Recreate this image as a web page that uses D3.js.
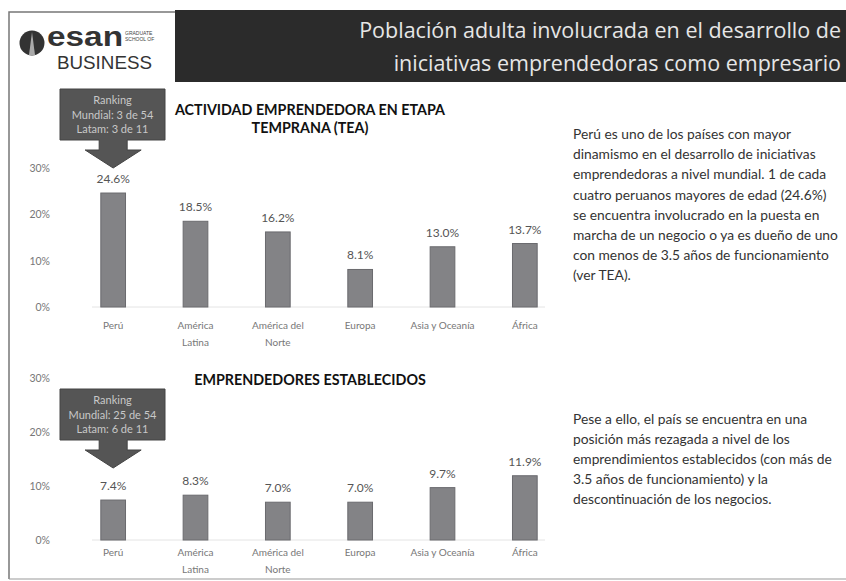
<!DOCTYPE html>
<html><head><meta charset="utf-8">
<script src="https://cdn.jsdelivr.net/npm/d3@7"></script>
<style>
html,body{margin:0;padding:0;background:#fff;}
svg{display:block;}
</style></head>
<body>
<svg id="c" width="846" height="581"></svg>
<script>
const categories = [["Perú"], ["América", "Latina"], ["América del", "Norte"], ["Europa"], ["Asia y Oceanía"], ["África"]];
const teaValues = [24.6, 18.5, 16.2, 8.1, 13.0, 13.7];
const establishedValues = [7.4, 8.3, 7.0, 7.0, 9.7, 11.9];
const yTicks = [0, 10, 20, 30];
const teaTitle = ["ACTIVIDAD EMPRENDEDORA EN ETAPA", "TEMPRANA (TEA)"];
const estTitle = ["EMPRENDEDORES ESTABLECIDOS"];
const teaRanking = ["Ranking", "Mundial: 3 de 54", "Latam: 3 de 11"];
const estRanking = ["Ranking", "Mundial: 25 de 54", "Latam: 6 de 11"];
const mainTitle = ["Población adulta involucrada en el desarrollo de", "iniciativas emprendedoras como empresario"];
const para1 = ["Perú es uno de los países con mayor", "dinamismo en el desarrollo de iniciativas", "emprendedoras a nivel mundial. 1 de cada", "cuatro peruanos mayores de edad (24.6%)", "se encuentra involucrado en la puesta en", "marcha de un negocio o ya es dueño de uno", "con menos de 3.5 años de funcionamiento", "(ver TEA)."];
const para2 = ["Pese a ello, el país se encuentra en una", "posición más rezagada a nivel de los", "emprendimientos establecidos (con más de", "3.5 años de funcionamiento) y la", "descontinuación de los negocios."];

const svg = d3.select("#c");
const F = "Lato, 'Open Sans', sans-serif";

// frame
svg.append("path").attr("d", "M9,579 L9,12 L176,12").attr("fill", "none").attr("stroke", "#777").attr("stroke-width", 1.5);
svg.append("line").attr("x1", 9).attr("x2", 846).attr("y1", 579).attr("y2", 579).attr("stroke", "#999").attr("stroke-width", 1);

// title bar
svg.append("rect").attr("x", 175).attr("y", 10).attr("width", 671).attr("height", 72).attr("fill", "#2b2b2b");
mainTitle.forEach((t, i) => {
  svg.append("text").attr("x", 841).attr("y", 38 + i * 33).attr("text-anchor", "end")
    .attr("font-family", "'Open Sans', sans-serif").attr("font-size", 21.5).attr("fill", "#e6e6e6").text(t);
});

// logo
const lg = svg.append("g");
lg.append("circle").attr("cx", 32).attr("cy", 43).attr("r", 12.5).attr("fill", "#333");
lg.append("path").attr("d", "M32,32 L35,55 L29,55 Z").attr("fill", "#aaa");
lg.append("text").attr("x", 47).attr("y", 46).attr("font-family", "'Liberation Sans', Arial, sans-serif").attr("font-weight", "bold").attr("font-size", 28).attr("fill", "#333").attr("textLength", 76).attr("lengthAdjust", "spacingAndGlyphs").text("esan");
["GRADUATE", "SCHOOL OF"].forEach((t, i) => {
  lg.append("text").attr("x", 125).attr("y", 35 + i * 6).attr("font-family", "'Liberation Sans', sans-serif").attr("font-size", 5).attr("fill", "#444").text(t);
});
lg.append("text").attr("x", 57).attr("y", 68.5).attr("font-family", "'Liberation Sans', Arial, sans-serif").attr("font-size", 18).attr("fill", "#333").attr("textLength", 95).attr("lengthAdjust", "spacingAndGlyphs").text("BUSINESS");

// scales
const x = d3.scaleBand().domain(d3.range(categories.length)).range([72, 566]).paddingInner(0.7).paddingOuter(0.35);

function drawChart(values, y0, y1, titleLines, titleY, ranking, boxY, labelY) {
  const y = d3.scaleLinear().domain([0, 30]).range([y0, y1]);
  const g = svg.append("g");
  const ax = d3.axisLeft(y).tickValues(yTicks).tickFormat(d => d + "%").tickSize(0).tickPadding(0);
  const axg = g.append("g").attr("transform", "translate(50,0)").call(ax);
  axg.select(".domain").remove();
  axg.selectAll("text").attr("font-family", F).attr("font-size", 10.5).attr("fill", "#777");
  g.append("line").attr("x1", 92).attr("x2", 545).attr("y1", y(0)).attr("y2", y(0)).attr("stroke", "#e4e4e4").attr("stroke-width", 1);
  g.selectAll("rect.bar").data(values).enter().append("rect").attr("class", "bar")
    .attr("x", (d, i) => x(i)).attr("width", x.bandwidth())
    .attr("y", d => y(d)).attr("height", d => y(0) - y(d))
    .attr("fill", "#838386").attr("stroke", "#6a6a6e").attr("stroke-width", 1);
  g.selectAll("text.val").data(values).enter().append("text").attr("class", "val")
    .attr("x", (d, i) => x(i) + x.bandwidth() / 2).attr("y", d => y(d) - 10)
    .attr("text-anchor", "middle").attr("font-family", F).attr("font-size", 12).attr("fill", "#555")
    .text(d => d.toFixed(1) + "%");
  categories.forEach((lines, i) => {
    lines.forEach((t, j) => {
      g.append("text").attr("x", x(i) + x.bandwidth() / 2).attr("y", labelY + j * 17)
        .attr("text-anchor", "middle").attr("font-family", F).attr("font-size", 10).attr("fill", "#777").text(t);
    });
  });
  titleLines.forEach((t, j) => {
    g.append("text").attr("x", 310).attr("y", titleY + j * 18).attr("text-anchor", "middle")
      .attr("font-family", F).attr("font-weight", "bold").attr("font-size", 14.3).attr("fill", "#111").text(t);
  });
  const cx = x(0) + x.bandwidth() / 2;
  const bx0 = 60, bx1 = 165, by0 = boxY, by1 = boxY + 51;
  const tip = by1 + 28;
  const p = `M${bx0},${by0} L${bx1},${by0} L${bx1},${by1} L${cx + 14},${by1} L${cx + 14},${by1 + 10} L${cx + 28},${by1 + 10} L${cx},${tip} L${cx - 28},${by1 + 10} L${cx - 14},${by1 + 10} L${cx - 14},${by1} L${bx0},${by1} Z`;
  g.append("path").attr("d", p).attr("fill", "#555").attr("stroke", "#444");
  ranking.forEach((t, j) => {
    g.append("text").attr("x", (bx0 + bx1) / 2).attr("y", by0 + 15 + j * 14.5).attr("text-anchor", "middle")
      .attr("font-family", F).attr("font-size", 11).attr("fill", "#c8c8c8").text(t);
  });
}

drawChart(teaValues, 307, 168, teaTitle, 115, teaRanking, 89, 329);
drawChart(establishedValues, 540, 378, estTitle, 385, estRanking, 389, 556);

function para(lines, x0, yStart, lh) {
  lines.forEach((t, i) => {
    svg.append("text").attr("x", x0).attr("y", yStart + i * lh).attr("font-family", F)
      .attr("font-size", 13.8).attr("fill", "#333").text(t);
  });
}
para(para1, 573, 139, 20.2);
para(para2, 573, 424, 20);
</script>
</body></html>
